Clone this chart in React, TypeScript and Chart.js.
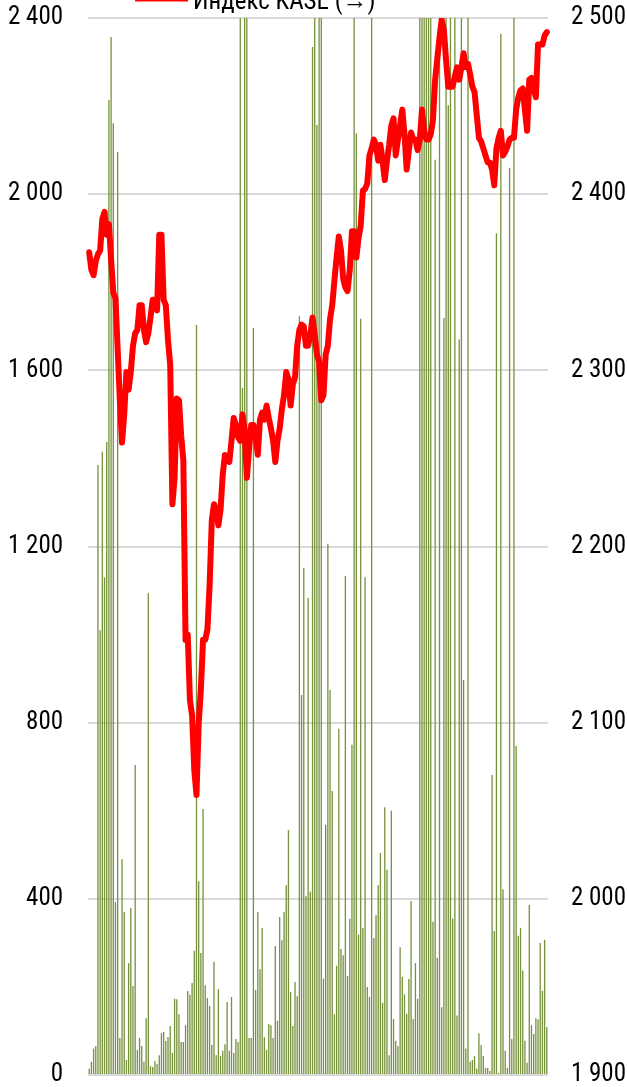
import { useEffect, useRef } from 'react';
import { Chart, registerables } from 'chart.js';

Chart.register(...registerables);

// Trading volume (left axis, bars)
const volumes: number[] = [
  14, 30, 60, 66, 1385, 1010, 1415, 1130, 1437, 2214,
  2357, 2161, 393, 2096, 84, 490, 370, 34, 254, 379,
  202, 704, 57, 84, 66, 30, 129, 1094, 20, 18,
  32, 25, 45, 95, 98, 77, 86, 111, 50, 173,
  172, 138, 75, 75, 113, 191, 182, 209, 282, 1703,
  440, 277, 604, 204, 175, 157, 68, 257, 45, 195,
  43, 55, 70, 166, 55, 177, 50, 82, 75, 2750,
  1560, 2900, 2650, 84, 84, 1696, 193, 370, 240, 334,
  86, 57, 116, 113, 84, 293, 123, 359, 306, 370,
  431, 556, 188, 111, 211, 179, 1723, 863, 1151, 406,
  1083, 416, 2334, 2800, 2157, 3100, 2700, 219, 568, 1206,
  874, 645, 138, 248, 786, 286, 272, 1133, 225, 355,
  750, 2950, 2138, 319, 1717, 334, 1130, 200, 177, 2850,
  311, 363, 431, 504, 164, 608, 466, 45, 600, 127,
  78, 65, 290, 223, 183, 139, 218, 395, 127, 254,
  173, 3000, 2800, 3200, 2900, 2700, 2600, 348, 2078, 266,
  2750, 154, 1719, 2650, 2202, 2900, 355, 2800, 135, 1670,
  2700, 897, 60, 2600, 30, 34, 43, 14, 95, 68,
  43, 16, 16, 9, 681, 327, 1911, 5, 2364, 422,
  55, 16, 2060, 82, 2750, 747, 316, 334, 237, 78,
  28, 386, 113, 93, 129, 126, 300, 191, 307, 109,
];

// KASE index (right axis, line)
const kaseIndex: number[] = [
  2367, 2357, 2354, 2362, 2366, 2368, 2386, 2390, 2377, 2383,
  2363, 2344, 2341, 2312, 2283, 2259, 2275, 2299, 2289, 2299,
  2314, 2321, 2323, 2337, 2337, 2323, 2316, 2321, 2330, 2340,
  2340, 2334, 2377, 2377, 2340, 2337, 2317, 2303, 2224, 2239,
  2284, 2283, 2263, 2249, 2147, 2150, 2113, 2104, 2073, 2059,
  2099, 2119, 2147, 2147, 2153, 2178, 2215, 2224, 2221, 2212,
  2221, 2241, 2252, 2249, 2248, 2260, 2273, 2269, 2262, 2260,
  2275, 2266, 2239, 2255, 2269, 2269, 2263, 2252, 2272, 2276,
  2272, 2280, 2273, 2267, 2260, 2248, 2260, 2267, 2278, 2286,
  2299, 2295, 2280, 2292, 2296, 2314, 2323, 2326, 2325, 2314,
  2314, 2320, 2330, 2320, 2309, 2305, 2283, 2286, 2309, 2314,
  2329, 2337, 2351, 2364, 2376, 2368, 2352, 2347, 2345, 2357,
  2379, 2379, 2364, 2375, 2382, 2402, 2403, 2406, 2422, 2426,
  2431, 2428, 2419, 2428, 2419, 2408, 2419, 2428, 2439, 2443,
  2422, 2431, 2439, 2448, 2434, 2414, 2425, 2435, 2431, 2431,
  2425, 2431, 2448, 2436, 2431, 2431, 2434, 2442, 2465, 2477,
  2489, 2499, 2493, 2476, 2461, 2461, 2461, 2467, 2472, 2465,
  2472, 2480, 2472, 2474, 2468, 2461, 2458, 2445, 2432, 2430,
  2426, 2422, 2418, 2418, 2414, 2405, 2426, 2432, 2436, 2422,
  2424, 2427, 2431, 2432, 2432, 2448, 2455, 2459, 2460, 2448,
  2436, 2465, 2466, 2460, 2455, 2485, 2485, 2485, 2490, 2492,
];

const days: string[] = volumes.map((_, i) => String(i + 1));
const leftTicks: number[] = [0, 400, 800, 1200, 1600, 2000, 2400];
const rightTicks: number[] = [1900, 2000, 2100, 2200, 2300, 2400, 2500];
const lineLabel = 'Индекс KASE (→)';

const FONT_FAMILY = "'Roboto Condensed', 'Liberation Sans Narrow', 'Arial Narrow', sans-serif";
const FONT_SIZE = 25;

function fmt(v: number | string): string {
  return String(v).replace(/\B(?=(\d{3})+(?!\d))/g, ' ');
}

const topLegend = {
  id: 'topLegend',
  afterDraw(chart: any) {
    const { ctx, chartArea } = chart;
    const y = chartArea.top - 19;
    const x0 = chartArea.left + 47;
    ctx.save();
    ctx.strokeStyle = '#ff0000';
    ctx.lineWidth = 5;
    ctx.beginPath();
    ctx.moveTo(x0, y);
    ctx.lineTo(x0 + 53, y);
    ctx.stroke();
    ctx.font = `${FONT_SIZE}px ${FONT_FAMILY}`;
    ctx.fillStyle = '#000000';
    ctx.textBaseline = 'middle';
    ctx.textAlign = 'left';
    ctx.fillText(lineLabel, x0 + 58, y + 4);
    ctx.restore();
  },
};

export default function App() {
  const ref = useRef<HTMLCanvasElement | null>(null);

  useEffect(() => {
    if (!ref.current) return;
    const tickFont = { family: FONT_FAMILY, size: FONT_SIZE, lineHeight: 1 };
    const chart = new Chart(ref.current, {
      type: 'bar',
      data: {
        labels: days,
        datasets: [
          {
            type: 'line',
            label: lineLabel,
            data: kaseIndex,
            yAxisID: 'y1',
            borderColor: '#ff0000',
            backgroundColor: '#ff0000',
            borderWidth: 6,
            pointRadius: 0,
            tension: 0,
            borderJoinStyle: 'round',
            borderCapStyle: 'round',
            order: 1,
          } as any,
          {
            type: 'bar',
            label: 'Объём',
            data: volumes,
            yAxisID: 'y',
            backgroundColor: '#76923c',
            borderWidth: 0,
            barPercentage: 0.6,
            categoryPercentage: 1,
            clip: 0,
            order: 2,
          } as any,
        ],
      },
      options: {
        animation: false,
        responsive: false,
        devicePixelRatio: 1,
        layout: { padding: { top: 58, bottom: 38, left: 8, right: 0 } },
        plugins: {
          legend: { display: false },
          tooltip: { enabled: false },
        },
        scales: {
          x: {
            display: false,
            offset: true,
            grid: { display: false },
          },
          y: {
            position: 'left',
            min: 0,
            max: 2400,
            afterBuildTicks: (s: any) => {
              s.ticks = leftTicks.map((v) => ({ value: v }));
            },
            ticks: {
              font: tickFont,
              color: '#000000',
              padding: 25,
              callback: (v: any) => fmt(v),
            },
            grid: { color: '#d9d9d9', lineWidth: 2, drawTicks: false },
            border: { display: false },
          },
          y1: {
            position: 'right',
            min: 1900,
            max: 2500,
            afterBuildTicks: (s: any) => {
              s.ticks = rightTicks.map((v) => ({ value: v }));
            },
            ticks: {
              font: tickFont,
              color: '#000000',
              padding: 23,
              callback: (v: any) => fmt(v),
            },
            grid: { display: false, drawTicks: false },
            border: { display: false },
          },
        },
      } as any,
      plugins: [topLegend],
    });
    return () => chart.destroy();
  }, []);

  return (
    <div
      style={{
        position: 'absolute',
        left: 0,
        top: 0,
        width: 627,
        height: 1087,
        overflow: 'hidden',
        background: '#ffffff',
      }}
    >
      <canvas
        ref={ref}
        width={674}
        height={1153}
        style={{ position: 'absolute', left: -25, top: -40 }}
      />
    </div>
  );
}
